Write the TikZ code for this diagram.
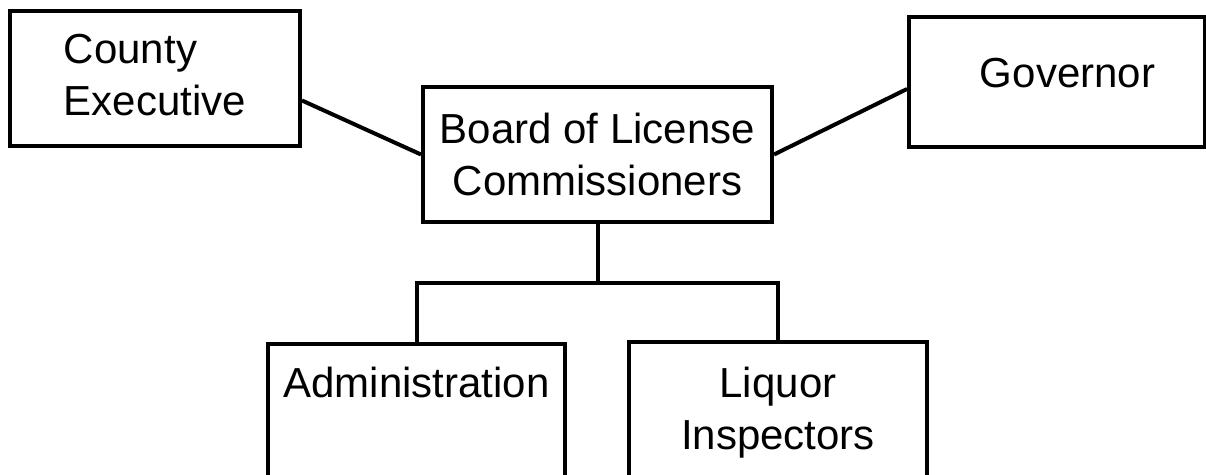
\documentclass[tikz,border=0pt]{standalone}
\usepackage{fontspec}
\setmainfont{Liberation Sans}
\usetikzlibrary{positioning}

\begin{document}
\begin{tikzpicture}[x=1pt, y=-1pt,
    unitbox/.style={draw, line width=4pt, align=center,
      font=\fontsize{42}{52}\selectfont},
    link/.style={line width=4pt}]
  \useasboundingbox (0,0) rectangle (1206,474);
  \clip (0,0) rectangle (1206,474);
  \node[unitbox, minimum width=349pt, minimum height=135pt] (board) at (597.5,154.5)
    {Board of License\\Commissioners};
  \node[unitbox, align=left, minimum width=290pt, inner ysep=0pt, text height=104pt, text depth=31pt,
        left=119pt of board, yshift=76pt] (county)
    {County\\Executive};
  \node[unitbox, minimum width=296pt, inner ysep=0pt, text height=70pt, text depth=60pt,
        right=133pt of board, yshift=72.5pt] (governor)
    {\hspace*{21pt}Governor};
  \node[unitbox, minimum width=297pt, inner ysep=0pt, text height=53pt, text depth=100pt,
        below=118pt of board, xshift=-181pt] (admin)
    {Administration};
  \node[unitbox, minimum width=298pt, inner ysep=0pt, text height=107pt, text depth=51pt,
        below=116pt of board, xshift=180.5pt] (liquor)
    {Liquor\\Inspectors};
  % lines between the boxes
  \coordinate[below=59pt of board.south] (split);
  \draw[link] ([yshift=-22pt]county.east) -- (board.west);
  \draw[link] ([yshift=-7pt]governor.west) -- (board.east);
  \draw[link] (board.south) -- (split);
  \draw[link] (admin.north) |- (split) -| (liquor.north);
\end{tikzpicture}
\end{document}
